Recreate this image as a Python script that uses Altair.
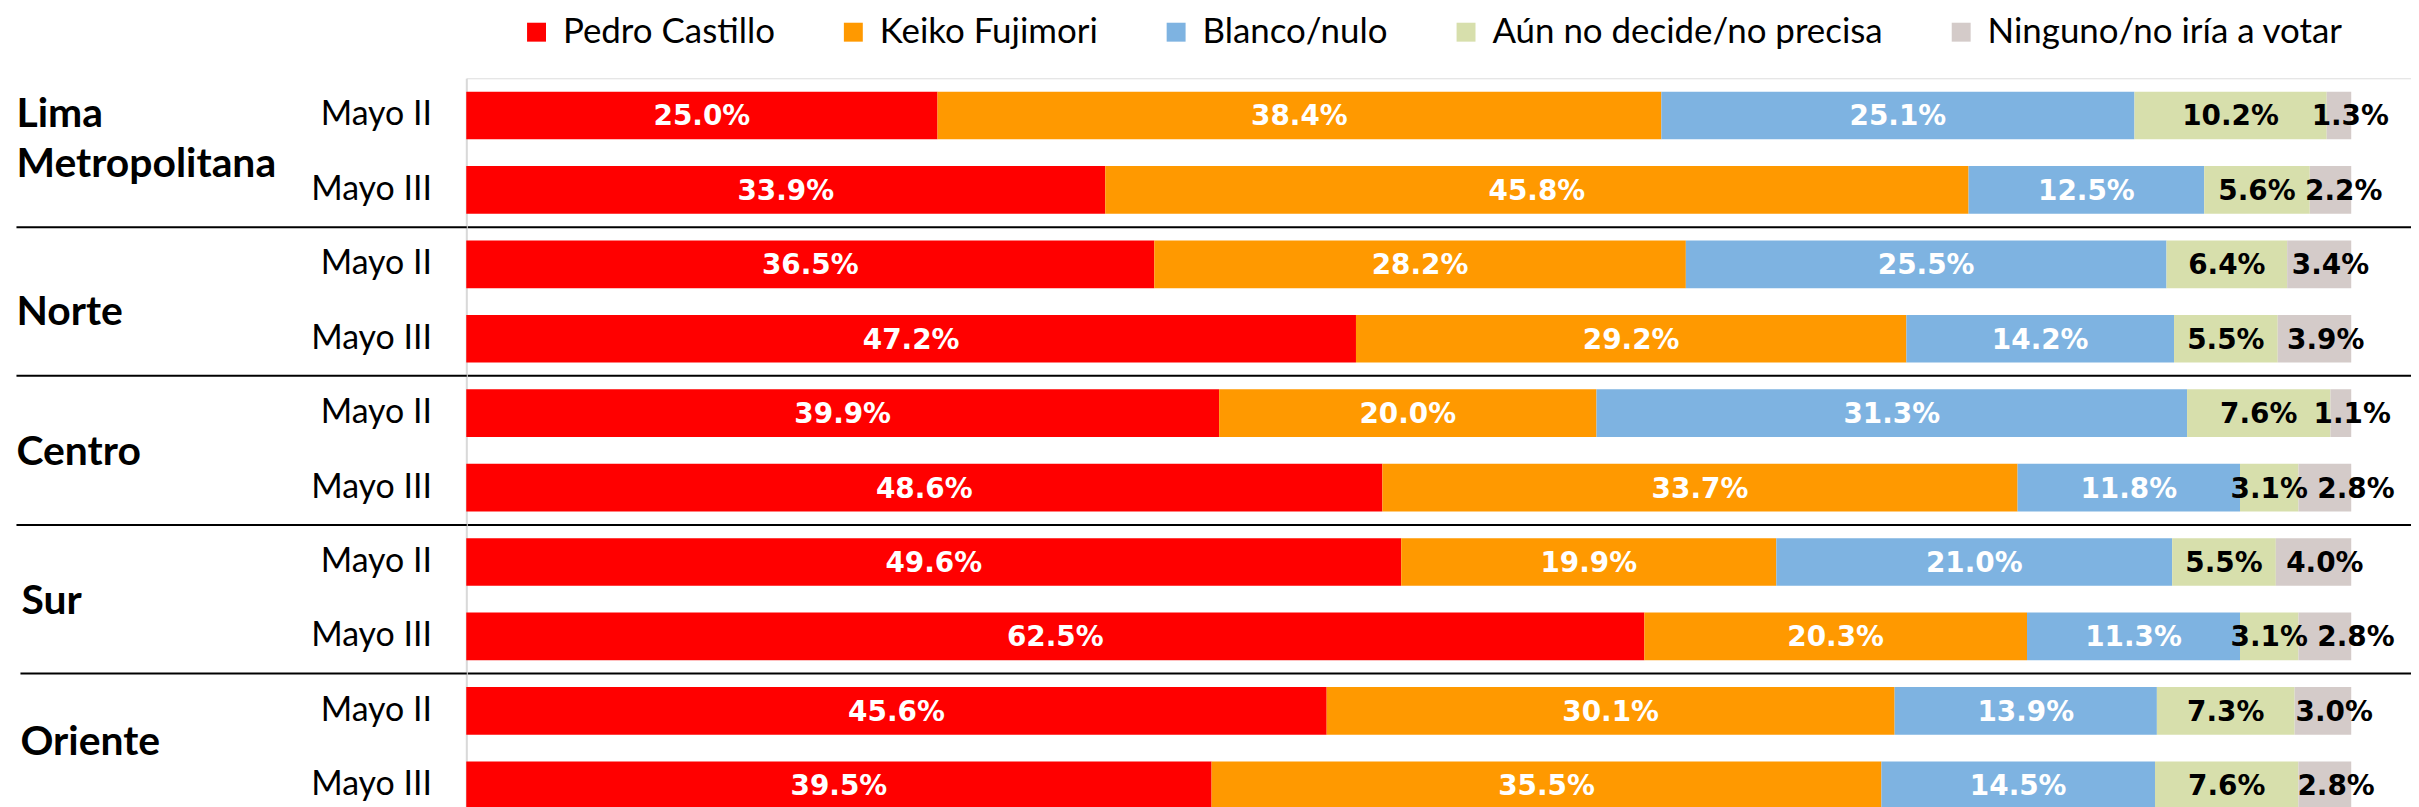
import altair as alt
import pandas as pd

groups = ["Lima Metropolitana", "Norte", "Centro", "Sur", "Oriente"]
periods = ["Mayo II", "Mayo III"]
categories = ["Pedro Castillo", "Keiko Fujimori", "Blanco/nulo",
              "Aún no decide/no precisa", "Ninguno/no iría a votar"]
colors = ["#FF0000", "#FF9900", "#7EB3E1", "#D7DFAC", "#D4CBC9"]

castillo = [25.0, 33.9, 36.5, 47.2, 39.9, 48.6, 49.6, 62.5, 45.6, 39.5]
keiko = [38.4, 45.8, 28.2, 29.2, 20.0, 33.7, 19.9, 20.3, 30.1, 35.5]
blanco = [25.1, 12.5, 25.5, 14.2, 31.3, 11.8, 21.0, 11.3, 13.9, 14.5]
aun = [10.2, 5.6, 6.4, 5.5, 7.6, 3.1, 5.5, 3.1, 7.3, 7.6]
ninguno = [1.3, 2.2, 3.4, 3.9, 1.1, 2.8, 4.0, 2.8, 3.0, 2.8]

series = [castillo, keiko, blanco, aun, ninguno]
rows = [f"{g}|{p}" for g in groups for p in periods]

records = []
for ci, (cat, vals) in enumerate(zip(categories, series)):
    for ri, r in enumerate(rows):
        records.append({"row": r, "category": cat, "order": ci, "value": vals[ri]})
df = pd.DataFrame(records)

FONT = "Lato"
LABEL_FONT = "DejaVu Sans"
xmax = 1952 / 1892

row_scale = alt.Scale(paddingInner=0.36, paddingOuter=0.18)

base = alt.Chart(df).transform_stack(
    stack="value", groupby=["row"], as_=["v0", "v1"], offset="normalize",
    sort=[alt.SortField("order")]
).transform_calculate(
    mid="(datum.v0 + datum.v1) / 2",
    label="format(datum.value, '.1f') + '%'",
    prevmid="datum.order == 3 ? (datum.v0 + datum.v1) / 2 : -1",
).transform_joinaggregate(
    aunmid="max(prevmid)", groupby=["row"]
).transform_calculate(
    # keep the last small label clear of its neighbour
    lx="datum.order == 4 ? max(datum.mid + 0.006, datum.aunmid + 0.046) : datum.mid"
)

bars = base.mark_bar().encode(
    y=alt.Y("row:N", sort=rows, scale=row_scale,
            axis=alt.Axis(title=None, ticks=False, domain=True, domainColor="#D9D9D9",
                          domainWidth=2, labelExpr="split(datum.value, '|')[1]",
                          labelFont=FONT, labelFontSize=34, labelColor="black",
                          labelPadding=35, labelAlign="right", labelBaseline="middle",
                          labelLimit=0, grid=False)),
    x=alt.X("v0:Q", scale=alt.Scale(domain=[0, xmax], nice=False, zero=True), axis=None),
    x2="v1:Q",
    color=alt.Color("category:N", sort=categories,
                    scale=alt.Scale(domain=categories, range=colors),
                    legend=alt.Legend(orient="none", legendX=53, legendY=-64,
                                      direction="horizontal", title=None,
                                      symbolType="square", symbolSize=361,
                                      symbolStrokeWidth=0,
                                      labelFont=FONT, labelFontSize=35, labelColor="black",
                                      columnPadding=61, labelOffset=9, labelLimit=0)),
    order=alt.Order("order:Q"),
)

texts = base.mark_text(font=LABEL_FONT, fontSize=28, fontWeight="bold",
                       baseline="middle", align="center", dy=2).encode(
    y=alt.Y("row:N", sort=rows, scale=row_scale),
    x=alt.X("lx:Q"),
    text="label:N",
    color=alt.condition("datum.order < 3", alt.value("white"), alt.value("black")),
)

group_df = pd.DataFrame({"group": groups})
grp = alt.Chart(group_df).mark_rule(opacity=0).encode(
    y=alt.Y("group:N", sort=groups, scale=alt.Scale(paddingInner=0, paddingOuter=0),
            axis=alt.Axis(
                orient="left", title=None, domain=False, bandPosition=0,
                ticks=True, tickWidth=2,
                tickSize={"condition": {"test": "datum.value === 'Oriente'", "value": 448},
                          "value": 452},
                tickColor={"condition": {"test": "datum.value === 'Lima Metropolitana'",
                                         "value": "transparent"}, "value": "black"},
                grid=True, gridWidth=2,
                gridColor={"condition": {"test": "datum.value === 'Lima Metropolitana'",
                                         "value": "transparent"}, "value": "black"},
                labelAlign="left", labelBaseline="middle",
                labelPadding={"condition": {"test": "datum.value === 'Sur'", "value": -5},
                              "value": 0},
                labelOffset={"condition": [
                    {"test": "datum.value === 'Lima Metropolitana'", "value": -38},
                    {"test": "datum.value === 'Norte'", "value": 12},
                    {"test": "datum.value === 'Centro'", "value": 3},
                    {"test": "datum.value === 'Oriente'", "value": -5}], "value": 3},
                labelFont=FONT, labelFontSize=41, labelFontWeight="bold",
                labelColor="black", labelLineHeight=50, labelLimit=0,
                labelExpr="datum.value === 'Lima Metropolitana' ? ['Lima', 'Metropolitana'] : datum.value",
            )),
)

chart = alt.layer(alt.layer(bars, texts), grp).resolve_scale(y="independent").properties(
    width=1952, height=747,
    padding={"left": 7, "top": 5, "right": 0, "bottom": 0},
).configure_view(stroke=None).configure(background="white")

chart.save("out.html", embed_options={"renderer": "svg", "actions": False})
